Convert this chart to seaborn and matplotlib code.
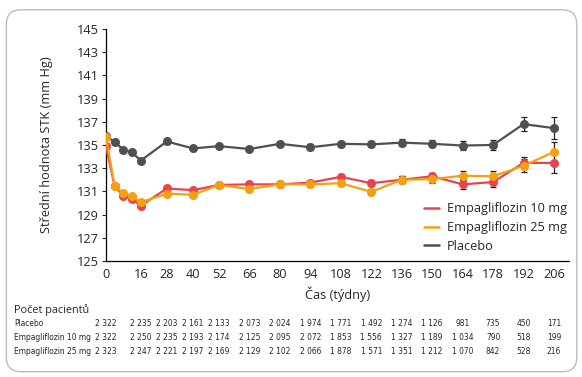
import pandas as pd
import matplotlib.pyplot as plt
import seaborn as sns
from matplotlib.patches import FancyBboxPatch

sns.set_style("ticks")
plt.rcParams["font.family"] = ["Open Sans", "DejaVu Sans"]

# ---- data ----
weeks = [0, 4, 8, 12, 16, 28, 40, 52, 66, 80, 94, 108, 122, 136, 150, 164, 178, 192, 206]
placebo = [135.8, 135.25, 134.6, 134.35, 133.65, 135.3, 134.7, 134.9, 134.65, 135.1,
           134.8, 135.1, 135.05, 135.2, 135.1, 134.95, 135.0, 136.8, 136.45]
empa10 = [134.9, 131.45, 130.6, 130.35, 129.75, 131.25, 131.1, 131.55, 131.6, 131.6,
          131.75, 132.25, 131.7, 132.0, 132.3, 131.6, 131.8, 133.45, 133.45]
empa25 = [135.7, 131.45, 130.85, 130.6, 130.05, 130.8, 130.7, 131.55, 131.2, 131.6,
          131.6, 131.7, 130.95, 132.0, 132.05, 132.35, 132.3, 133.2, 134.4]
se_placebo = [0.1, 0.15, 0.15, 0.15, 0.15, 0.2, 0.2, 0.2, 0.2, 0.2,
              0.25, 0.25, 0.25, 0.3, 0.3, 0.4, 0.45, 0.6, 0.95]
se_empa10 = [0.1, 0.15, 0.15, 0.15, 0.15, 0.2, 0.2, 0.2, 0.2, 0.2,
             0.25, 0.25, 0.25, 0.3, 0.3, 0.4, 0.45, 0.55, 0.85]
se_empa25 = [0.1, 0.15, 0.15, 0.15, 0.15, 0.2, 0.2, 0.2, 0.2, 0.2,
             0.25, 0.25, 0.25, 0.3, 0.3, 0.4, 0.45, 0.55, 0.85]

tick_weeks = [0, 16, 28, 40, 52, 66, 80, 94, 108, 122, 136, 150, 164, 178, 192, 206]
n_placebo = ["2 322", "2 235", "2 203", "2 161", "2 133", "2 073", "2 024", "1 974",
             "1 771", "1 492", "1 274", "1 126", "981", "735", "450", "171"]
n_empa10 = ["2 322", "2 250", "2 235", "2 193", "2 174", "2 125", "2 095", "2 072",
            "1 853", "1 556", "1 327", "1 189", "1 034", "790", "518", "199"]
n_empa25 = ["2 323", "2 247", "2 221", "2 197", "2 169", "2 129", "2 102", "2 066",
            "1 878", "1 571", "1 351", "1 212", "1 070", "842", "528", "216"]

names = ["Placebo", "Empagliflozin 10 mg", "Empagliflozin 25 mg"]
colors = {"Placebo": "#505050", "Empagliflozin 10 mg": "#e8434f",
          "Empagliflozin 25 mg": "#f5a00f"}

df = pd.concat([
    pd.DataFrame({"week": weeks, "stk": placebo, "se": se_placebo, "group": names[0]}),
    pd.DataFrame({"week": weeks, "stk": empa10, "se": se_empa10, "group": names[1]}),
    pd.DataFrame({"week": weeks, "stk": empa25, "se": se_empa25, "group": names[2]}),
])

# ---- figure ----
fig = plt.figure(figsize=(5.82, 3.77), dpi=100)
frame = FancyBboxPatch((0.011, 0.014), 0.98, 0.96, boxstyle="round,pad=0,rounding_size=0.025",
                       transform=fig.transFigure, fc="none", ec="#bdbdbd", lw=1.0,
                       mutation_aspect=582 / 377, zorder=-5)
fig.patches.append(frame)

ax = fig.add_axes([0.182, 0.308, 0.796, 0.615])
ax.patch.set_alpha(0)

for g in names:
    d = df[df["group"] == g]
    ax.errorbar(d["week"], d["stk"], yerr=d["se"], fmt="none", ecolor="#222222",
                elinewidth=0.9, capsize=2.5, capthick=0.9, zorder=2)
    sns.lineplot(data=d, x="week", y="stk", color=colors[g], marker="o",
                 markersize=6.5, markeredgewidth=0, linewidth=1.6, ax=ax,
                 label=g, zorder=3)

ax.set_xlim(0, 213)
ax.set_ylim(125, 145)
ax.set_xticks(tick_weeks)
ax.set_yticks(range(125, 146, 2))
ax.tick_params(axis="x", length=0, labelsize=9.2, pad=5)
ax.tick_params(axis="y", length=3, labelsize=9.2, pad=2)
sns.despine(ax=ax)
ax.spines["left"].set_linewidth(0.9)
ax.spines["bottom"].set_linewidth(0.9)
ax.spines["left"].set_color("black")
ax.spines["bottom"].set_color("black")
ax.set_xlabel("Čas (týdny)", fontsize=9.2, labelpad=4)
ax.set_ylabel("Střední hodnota STK (mm Hg)", fontsize=9.2, labelpad=17)

handles, labels = ax.get_legend_handles_labels()
order = [1, 2, 0]
leg = ax.legend([plt.Line2D([], [], color=colors[labels[i]], lw=1.8) for i in order],
                [labels[i] for i in order], loc="lower right", frameon=False,
                fontsize=9.2, handlelength=1.2, handletextpad=0.6,
                labelspacing=0.45, bbox_to_anchor=(1.02, -0.015))

# ---- patient count table ----
fig.text(0.024, 0.177, "Počet pacientů", fontsize=7.8, va="center")
rows = [("Placebo", n_placebo, 0.142), ("Empagliflozin 10 mg", n_empa10, 0.104),
        ("Empagliflozin 25 mg", n_empa25, 0.067)]
for label, counts, yy in rows:
    fig.text(0.024, yy, label, fontsize=6.0, va="center", family="DejaVu Sans",
             fontstretch="condensed")
    for w, c in zip(tick_weeks, counts):
        xd = fig.transFigure.inverted().transform(ax.transData.transform((w, 125)))[0]
        fig.text(xd, yy, c, fontsize=6.0, va="center", ha="center",
                 family="DejaVu Sans", fontstretch="condensed")

fig.savefig("out.png", dpi=100)
